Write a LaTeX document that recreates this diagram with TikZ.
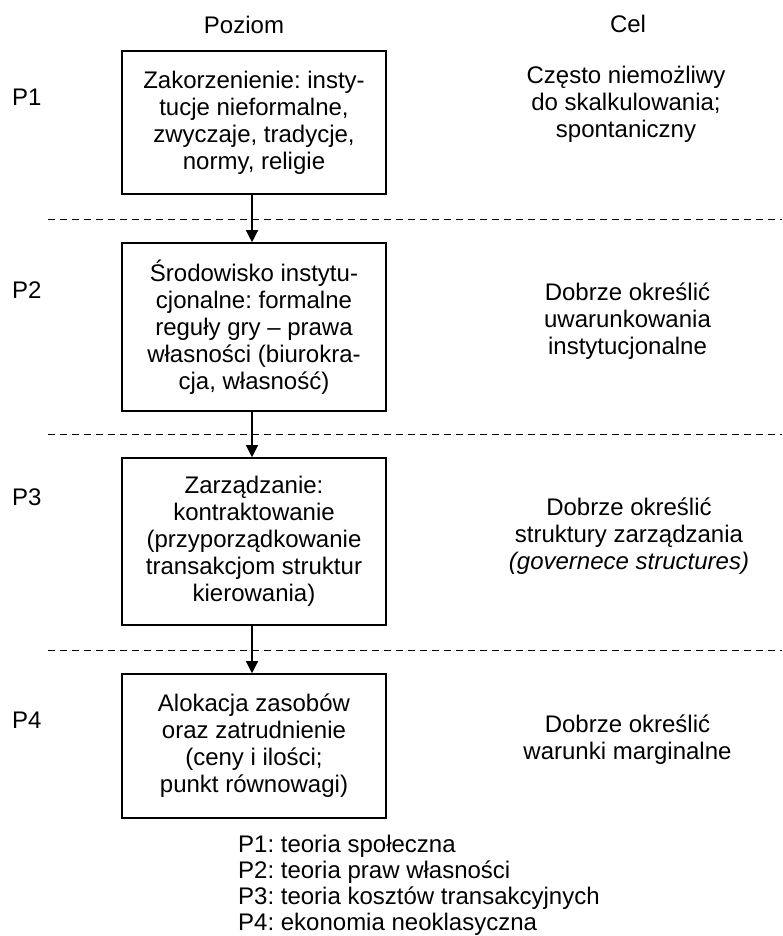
\documentclass[tikz,border=0pt]{standalone}
\usepackage{fontspec}
\setmainfont{Liberation Sans}
\usetikzlibrary{arrows.meta}
\frenchspacing
\newcommand{\Ttop}{\rule{0pt}{24pt}}
\begin{document}
\begin{tikzpicture}[x=1pt,y=-1pt,
  every node/.style={font=\fontsize{24}{27}\selectfont\frenchspacing, inner sep=0pt},
  levelbox/.style={draw, line width=1.6pt, minimum width=264pt, align=center},
  goal/.style={align=center, anchor=north},
  lbl/.style={anchor=base west},
  head/.style={anchor=base},
  sep/.style={dash pattern=on 7pt off 5pt, line width=0.9pt},
  flow/.style={-{Triangle[length=12pt,width=12pt]}, line width=1.3pt}]
\useasboundingbox (0,0) rectangle (782,936);

% headers
\node[head] (h1) at (244,34) {Poziom};
\node[head] (h2) at (628,33) {Cel};

% level labels
\node[lbl] (p1) at (12,106) {P1};
\node[lbl] (p2) at (12,298) {P2};
\node[lbl] (p3) at (12,505) {P3};
\node[lbl] (p4) at (12,728) {P4};

% boxes
\node[levelbox, minimum height=143pt] (b1) at (254,122.5)
  {Zakorzenienie: insty-\\tucje nieformalne,\\zwyczaje, tradycje,\\normy, religie};
\node[levelbox, minimum height=168pt] (b2) at (254,327)
  {Środowisko instytu-\\cjonalne: formalne\\reguły gry – prawa\\własności (biurokra-\\cja, własność)};
\node[levelbox, minimum height=167pt] (b3) at (254,541.5)
  {Zarządzanie:\\kontraktowanie\\(przyporządkowanie\\transakcjom struktur\\kierowania)};
\node[levelbox, minimum height=144pt] (b4) at (254,746)
  {Alokacja zasobów\\oraz zatrudnienie\\(ceny i ilości;\\punkt równowagi)};

% goals
\node[goal] (g1) at (626,59) {\Ttop Często niemożliwy\\do skalkulowania;\\spontaniczny};
\node[goal] (g2) at (627.5,276) {\Ttop Dobrze określić\\uwarunkowania\\instytucjonalne};
\node[goal] (g3) at (629,491) {\Ttop Dobrze określić\\struktury zarządzania\\\textit{(governece structures)}};
\node[goal] (g4) at (627.5,708) {\Ttop Dobrze określić\\warunki marginalne};

% separators
\draw[sep] (48,219) -- (782,219);
\draw[sep] (48,434) -- (782,434);
\draw[sep] (48,650) -- (782,650);

% arrows
\draw[flow] ([xshift=-2pt]b1.south) -- ([xshift=-2pt]b2.north);
\draw[flow] ([xshift=-2pt]b2.south) -- ([xshift=-2pt]b3.north);
\draw[flow] ([xshift=-2pt]b3.south) -- ([xshift=-2pt]b4.north);

% legend
\node[anchor=north west, align=left, font=\fontsize{24}{26}\selectfont\frenchspacing] (leg) at (238,828)
  {\Ttop P1: teoria społeczna\\P2: teoria praw własności\\P3: teoria kosztów transakcyjnych\\P4: ekonomia neoklasyczna};
\end{tikzpicture}
\end{document}
